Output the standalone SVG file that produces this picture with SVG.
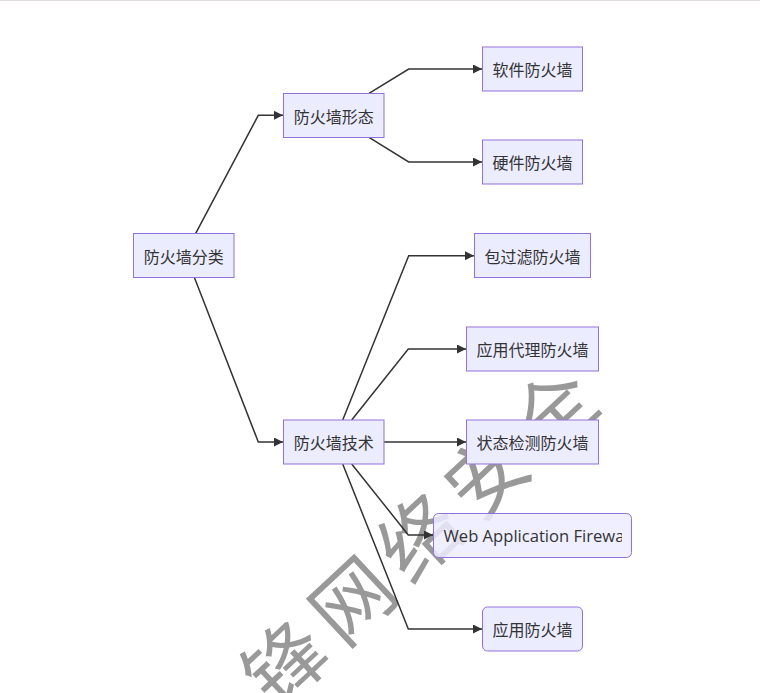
<svg xmlns="http://www.w3.org/2000/svg" width="760" height="693" viewBox="0 0 760 693">
<style>
.node rect{fill:#ECECFF;stroke:#9370DB;stroke-width:1}
.node text{font-family:"Noto Sans CJK SC","Noto Sans",sans-serif;font-size:16px;fill:#333;text-anchor:middle;dominant-baseline:central}
.edge{fill:none;stroke:#333;stroke-width:1.5;marker-end:url(#arr)}
.wm{font-family:"Noto Sans CJK SC",sans-serif;font-size:80px;font-weight:400;fill:#999;letter-spacing:12px}
</style>
<defs>
<marker id="arr" viewBox="0 0 10 10" refX="10" refY="5" markerWidth="9" markerHeight="9" markerUnits="userSpaceOnUse" orient="auto">
<path d="M0,0 L10,5 L0,10 z" fill="#333"/>
</marker>
<clipPath id="wafclip"><rect x="437" y="514" width="185" height="42"/></clipPath>
</defs>
<rect width="760" height="693" fill="#fff"/>
<line x1="0" y1="0.5" x2="760" y2="0.5" stroke="#e2dcdc" stroke-width="1"/>
<text class="wm" transform="translate(276,712) rotate(-43)">锋网络安全</text>
<g id="edges">
<path class="edge" d="M195.7,233.3 L258.3,115.3 L283,115.3"/>
<path class="edge" d="M369,93.3 L408.7,69 L482,69"/>
<path class="edge" d="M369,137.3 L408.7,162 L482,162"/>
<path class="edge" d="M194.3,277.3 L258.3,442 L283,442"/>
<path class="edge" d="M342.7,420 L408.7,255.7 L474,255.7"/>
<path class="edge" d="M351.7,420 L408.3,349 L466,349"/>
<path class="edge" d="M384,442 L466,442"/>
<path class="edge" d="M351.7,464 L408.3,535 L433,535"/>
<path class="edge" d="M342.7,464 L408.3,629 L482,629"/>
</g>
<g id="n_fenlei" class="node"><rect x="133.5" y="233.5" width="100.5" height="44"/><text x="183.7" y="255.5">防火墙分类</text></g>
<g id="n_xingtai" class="node"><rect x="283.5" y="93.5" width="100.5" height="44"/><text x="333.7" y="115.5">防火墙形态</text></g>
<g id="n_ruanjian" class="node"><rect x="482.5" y="47" width="100" height="44"/><text x="532.5" y="69">软件防火墙</text></g>
<g id="n_yingjian" class="node"><rect x="482.5" y="140" width="100" height="44"/><text x="532.5" y="162">硬件防火墙</text></g>
<g id="n_jishu" class="node"><rect x="283.5" y="420" width="100.5" height="44"/><text x="333.7" y="442">防火墙技术</text></g>
<g id="n_baoguolv" class="node"><rect x="474.5" y="233.5" width="116" height="44"/><text x="532.5" y="255.5">包过滤防火墙</text></g>
<g id="n_dailii" class="node"><rect x="466.5" y="327" width="132" height="44"/><text x="532.5" y="349">应用代理防火墙</text></g>
<g id="n_zhuangtai" class="node"><rect x="466.5" y="420" width="132" height="44"/><text x="532.5" y="442">状态检测防火墙</text></g>
<g id="n_waf" class="node"><rect x="433.5" y="513.5" width="198" height="44" rx="5" ry="5" style="fill-opacity:0.85"/><text x="443.5" y="535" clip-path="url(#wafclip)" style="text-anchor:start;font-family:'Open Sans','Noto Sans',sans-serif;font-size:16.6px">Web Application Firewall</text></g>
<g id="n_yingyong" class="node"><rect x="482.5" y="607" width="100" height="44" rx="5" ry="5"/><text x="532.5" y="629">应用防火墙</text></g>
</svg>
